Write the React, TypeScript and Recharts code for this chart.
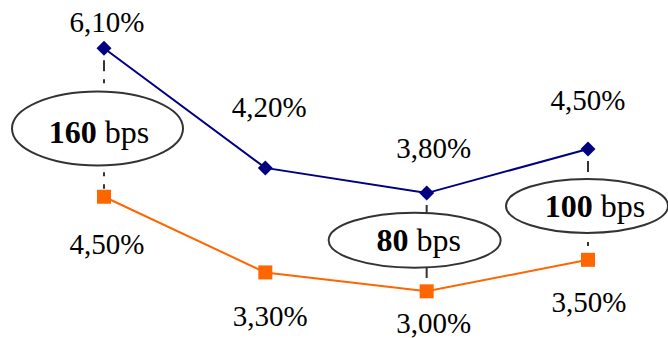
import React, { useEffect, useState } from 'react';
import { LineChart, Line, XAxis, YAxis } from 'recharts';

// ---- data ----
const categories = ['P1', 'P2', 'P3', 'P4'];
const navyRates = [6.1, 4.2, 3.8, 4.5];
const orangeRates = [4.5, 3.3, 3.0, 3.5];
const spreadBps: (number | null)[] = [160, null, 80, 100];

const data = categories.map((c, i) => ({
  cat: c,
  navy: navyRates[i],
  orange: orangeRates[i],
  spread: spreadBps[i],
}));

// ---- styles / layout ----
const NAVY = '#000080';
const ORANGE = '#FF6600';
const FONT = "'Liberation Serif', 'Times New Roman', serif";

const navyLabelOffset = [[3, -16], [4, -51], [7, -35], [0, -39]];
const orangeLabelOffset = [[3, 57], [5, 54], [7, 42], [1, 52]];
const bubbleLayout: Record<number, { dx: number; dy: number; rx: number; ry: number; tdx: number; tdy: number }> = {
  0: { dx: -6.5, dy: 6, rx: 85.5, ry: 37, tdx: 1.5, tdy: 15 },
  2: { dx: -12, dy: -2, rx: 86, ry: 27.5, tdx: 4, tdy: 11 },
  3: { dx: -1, dy: 1.5, rx: 81, ry: 27, tdx: 8, tdy: 11 },
};

const navyPos: Record<number, { x: number; y: number }> = {};

const fmt = (v: number) => v.toFixed(2).replace('.', ',') + '%';

function renderNavyDot(props: any) {
  const { cx, cy, index } = props;
  if (cx == null || cy == null) return <g key={`nd${index}`} />;
  navyPos[index] = { x: cx, y: cy };
  const s = 7.5;
  return (
    <polygon
      key={`nd${index}`}
      points={`${cx},${cy - s} ${cx + s},${cy} ${cx},${cy + s} ${cx - s},${cy}`}
      fill={NAVY}
    />
  );
}

function renderOrangeDot(props: any) {
  const { cx, cy, index, payload } = props;
  if (cx == null || cy == null) return <g key={`od${index}`} />;
  const top = navyPos[index];
  const bps = payload ? payload.spread : null;
  const lay = bubbleLayout[index];
  const s = 7;
  let bubble = null;
  if (bps != null && top && lay) {
    const ex = cx + lay.dx;
    const ey = (top.y + cy) / 2 + lay.dy;
    bubble = (
      <g>
        <line
          x1={cx}
          x2={cx}
          y1={top.y + 12}
          y2={cy - 8}
          stroke="#333"
          strokeWidth={2}
          strokeDasharray="11 8 4 8"
        />
        <ellipse cx={ex} cy={ey} rx={lay.rx} ry={lay.ry} fill="#fff" stroke="#333" strokeWidth={2} />
        <text x={ex + lay.tdx} y={ey + lay.tdy} textAnchor="middle" fontFamily={FONT} fontSize={32} fill="#000">
          <tspan fontWeight="bold">{bps}</tspan>
          <tspan> bps</tspan>
        </text>
      </g>
    );
  }
  return (
    <g key={`od${index}`}>
      {bubble}
      <rect x={cx - s} y={cy - s} width={2 * s} height={2 * s} fill={ORANGE} />
    </g>
  );
}

function makeLabel(offsets: number[][]) {
  return (props: any) => {
    const { x, y, value, index } = props;
    if (x == null || y == null) return <g key={`l${index}`} />;
    const [dx, dy] = offsets[index] || [0, 0];
    return (
      <text
        key={`l${index}`}
        x={x + dx}
        y={y + dy}
        textAnchor="middle"
        fontFamily={FONT}
        fontSize={29}
        fill="#000"
      >
        {fmt(Number(value))}
      </text>
    );
  };
}

export default function App() {
  const [, setTick] = useState(0);
  useEffect(() => {
    const t = setTimeout(() => setTick(1), 50);
    return () => clearTimeout(t);
  }, []);
  return (
    <div style={{ position: 'absolute', left: 0, top: 0, width: 668, height: 338, background: '#fff' }}>
      <LineChart width={668} height={338} data={data} margin={{ top: 0, right: 80, bottom: 0, left: 104 }}>
        <XAxis dataKey="cat" hide />
        <YAxis yAxisId="navy" hide domain={[1.5, 6.865]} allowDataOverflow type="number" />
        <YAxis yAxisId="orange" hide domain={[2.26, 7.62]} allowDataOverflow type="number" />
        <Line
          yAxisId="navy"
          dataKey="navy"
          stroke={NAVY}
          strokeWidth={2}
          isAnimationActive={false}
          dot={(p: any) => renderNavyDot(p)}
          activeDot={false}
          label={makeLabel(navyLabelOffset)}
        />
        <Line
          yAxisId="orange"
          dataKey="orange"
          stroke={ORANGE}
          strokeWidth={2}
          isAnimationActive={false}
          dot={(p: any) => renderOrangeDot(p)}
          activeDot={false}
          label={makeLabel(orangeLabelOffset)}
        />
      </LineChart>
    </div>
  );
}
